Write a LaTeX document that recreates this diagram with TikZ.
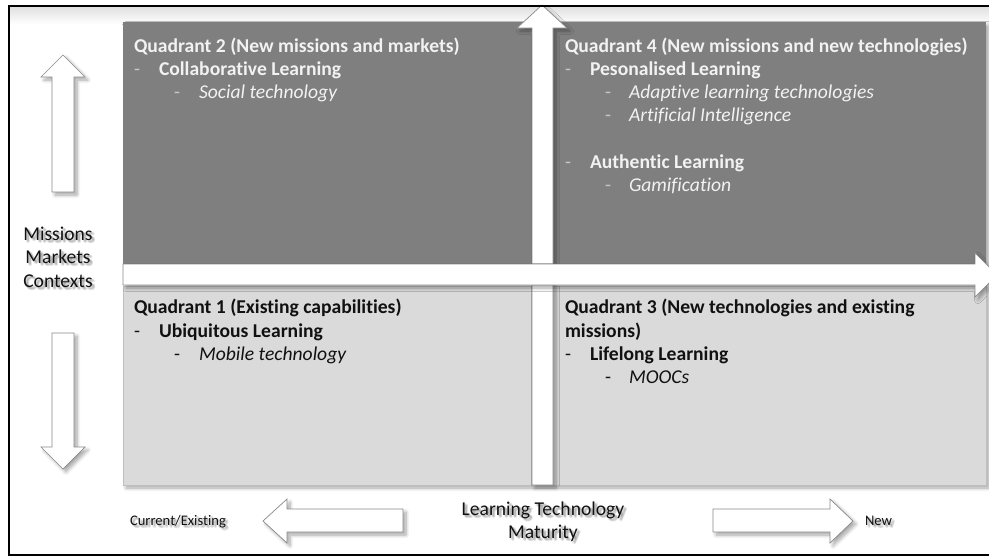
\documentclass[tikz,border=0pt]{standalone}
\usepackage{fontspec}
\setmainfont[Ligatures=NoCommon]{Carlito}
\usetikzlibrary{calc,shadows.blur}

\definecolor{quadDark}{HTML}{7F7F7F}
\definecolor{quadLight}{HTML}{DADADA}
\definecolor{textLight}{HTML}{F2F2F2}
\definecolor{dashLight}{HTML}{C8C8C8}
\definecolor{textDark}{HTML}{111111}
\definecolor{edgeGray}{HTML}{8A8A8A}

% a label with a soft grey halo below and to the right
\newcommand{\haloLabel}[4]{%
  \foreach \dx/\dy [count=\k] in {1.5/1.5,2.5/2.5,3.5/2.0,2.0/3.5,3.0/3.0,1.0/2.5,2.5/1.0}{
    \node[#2, text=black, text opacity=0.07] (#1-halo-\k) at ($(#3)+(\dx,\dy)$) {#4};
  }
  \node[#2] (#1) at (#3) {#4};
}

\begin{document}
\begin{tikzpicture}[x=1pt,y=-1pt,
  every node/.style={inner sep=0pt, outer sep=0pt},
  body/.style={font=\fontsize{19.6}{23}\selectfont},
  small/.style={font=\fontsize{14.6}{17}\selectfont},
  ttl/.style={anchor=base west, font=\fontsize{19.6}{23}\selectfont\bfseries},
  topic/.style={anchor=base west, font=\fontsize{19.6}{23}\selectfont\bfseries},
  tech/.style={anchor=base west, font=\fontsize{19.6}{23}\selectfont\itshape},
  bullet/.style={anchor=base west, font=\fontsize{19.6}{23}\selectfont},
  ondark/.style={text=textLight},
  dashdark/.style={text=dashLight},
  onlight/.style={text=textDark},
  outside/.style={body, anchor=base, text=textDark},
  arrowshape/.style={fill=white, draw=edgeGray, line width=0.7pt, line join=miter},
  softshadow/.style={blur shadow={shadow xshift=3pt, shadow yshift=-3pt,
      shadow blur steps=8, shadow blur radius=3.5pt, shadow opacity=35}},
]
\useasboundingbox (0,0) rectangle (989,557);
\clip (0,0) rectangle (989,557);

% faint band under the top rule
\shade[top color=black!12, bottom color=white] (10,7) rectangle (989,24);

% the two quadrant bands
\path[fill=quadDark, softshadow] (123,22) rectangle (986,264);
\path[fill=quadLight, draw=black!25, line width=0.6pt, softshadow] (123,286) rectangle (986,485);

% vertical axis arrow (technology maturity split)
\path[arrowshape, softshadow]
  (532,485) -- (532,28) -- (517,28) -- (542,5) -- (567,28) -- (553,28) -- (553,485) -- cycle;

% horizontal axis arrow (missions split), laid over the vertical one
\path[arrowshape, softshadow]
  (123,264) -- (975,264) -- (975,253) -- (997,275) -- (975,297) -- (975,285) -- (123,285) -- cycle;

% side arrows: up and down
\path[arrowshape, softshadow]
  (52,192) -- (52,77) -- (41,77) -- (63,55) -- (85,77) -- (74,77) -- (74,192) -- cycle;
\path[arrowshape, softshadow]
  (52,333) -- (74,333) -- (74,447) -- (85,447) -- (63,469) -- (41,447) -- (52,447) -- cycle;

% bottom arrows: left and right
\path[arrowshape, softshadow]
  (403,509) -- (287,509) -- (287,499) -- (263,521) -- (287,543) -- (287,532) -- (403,532) -- cycle;
\path[arrowshape, softshadow]
  (713,509) -- (830,509) -- (830,499) -- (853,521) -- (830,543) -- (830,532) -- (713,532) -- cycle;

% outer frame
\draw[line width=1.8pt, black] (9,6) rectangle (1000,555);

% ---- Quadrant 2
\node[ttl, ondark] (q2) at (134,52) {Quadrant 2 (New missions and markets)};
\node[bullet, dashdark] (q2d1) at (134,75) {-};
\node[topic, ondark] (q2a) at (159,75) {Collaborative Learning};
\node[bullet, dashdark] (q2d2) at (174,98) {-};
\node[tech, ondark] (q2b) at (199,98) {Social technology};

% ---- Quadrant 4
\node[ttl, ondark] (q4) at (565,52) {Quadrant 4 (New missions and new technologies)};
\node[bullet, dashdark] (q4d1) at (565,75) {-};
\node[topic, ondark] (q4a) at (590,75) {Pesonalised Learning};
\node[bullet, dashdark] (q4d2) at (605,98) {-};
\node[tech, ondark] (q4b) at (629,98) {Adaptive learning technologies};
\node[bullet, dashdark] (q4d3) at (605,121.5) {-};
\node[tech, ondark] (q4c) at (629,121.5) {Artificial Intelligence};
\node[bullet, dashdark] (q4d4) at (565,168) {-};
\node[topic, ondark] (q4e) at (590,168) {Authentic Learning};
\node[bullet, dashdark] (q4d5) at (605,191.5) {-};
\node[tech, ondark] (q4f) at (629,191.5) {Gamification};

% ---- Quadrant 1
\node[ttl, onlight] (q1) at (134,313) {Quadrant 1 (Existing capabilities)};
\node[bullet, onlight] (q1d1) at (134,337) {-};
\node[topic, onlight] (q1a) at (159,337) {Ubiquitous Learning};
\node[bullet, onlight] (q1d2) at (174,360) {-};
\node[tech, onlight] (q1b) at (199,360) {Mobile technology};

% ---- Quadrant 3
\node[ttl, onlight] (q3) at (565,313) {Quadrant 3 (New technologies and existing};
\node[ttl, onlight] (q3l2) at (565,337) {missions)};
\node[bullet, onlight] (q3d1) at (565,360) {-};
\node[topic, onlight] (q3a) at (590,360) {Lifelong Learning};
\node[bullet, onlight] (q3d2) at (605,383) {-};
\node[tech, onlight] (q3b) at (629,383) {MOOCs};

% ---- axis labels
\coordinate (pMis) at (58,240);
\coordinate (pMar) at (58,263);
\coordinate (pCon) at (58,287);
\coordinate (pLtm) at (543,515);
\coordinate (pMat) at (543,538);
\coordinate (pCur) at (130,525);
\coordinate (pNew) at (865,525);
\haloLabel{missions}{outside}{pMis}{Missions}
\haloLabel{markets}{outside}{pMar}{Markets}
\haloLabel{contexts}{outside}{pCon}{Contexts}
\haloLabel{ltm}{outside}{pLtm}{Learning Technology}
\haloLabel{maturity}{outside}{pMat}{Maturity}
\haloLabel{current}{small, anchor=base west, text=textDark}{pCur}{Current/Existing}
\haloLabel{new}{small, anchor=base west, text=textDark}{pNew}{New}
\end{tikzpicture}
\end{document}
